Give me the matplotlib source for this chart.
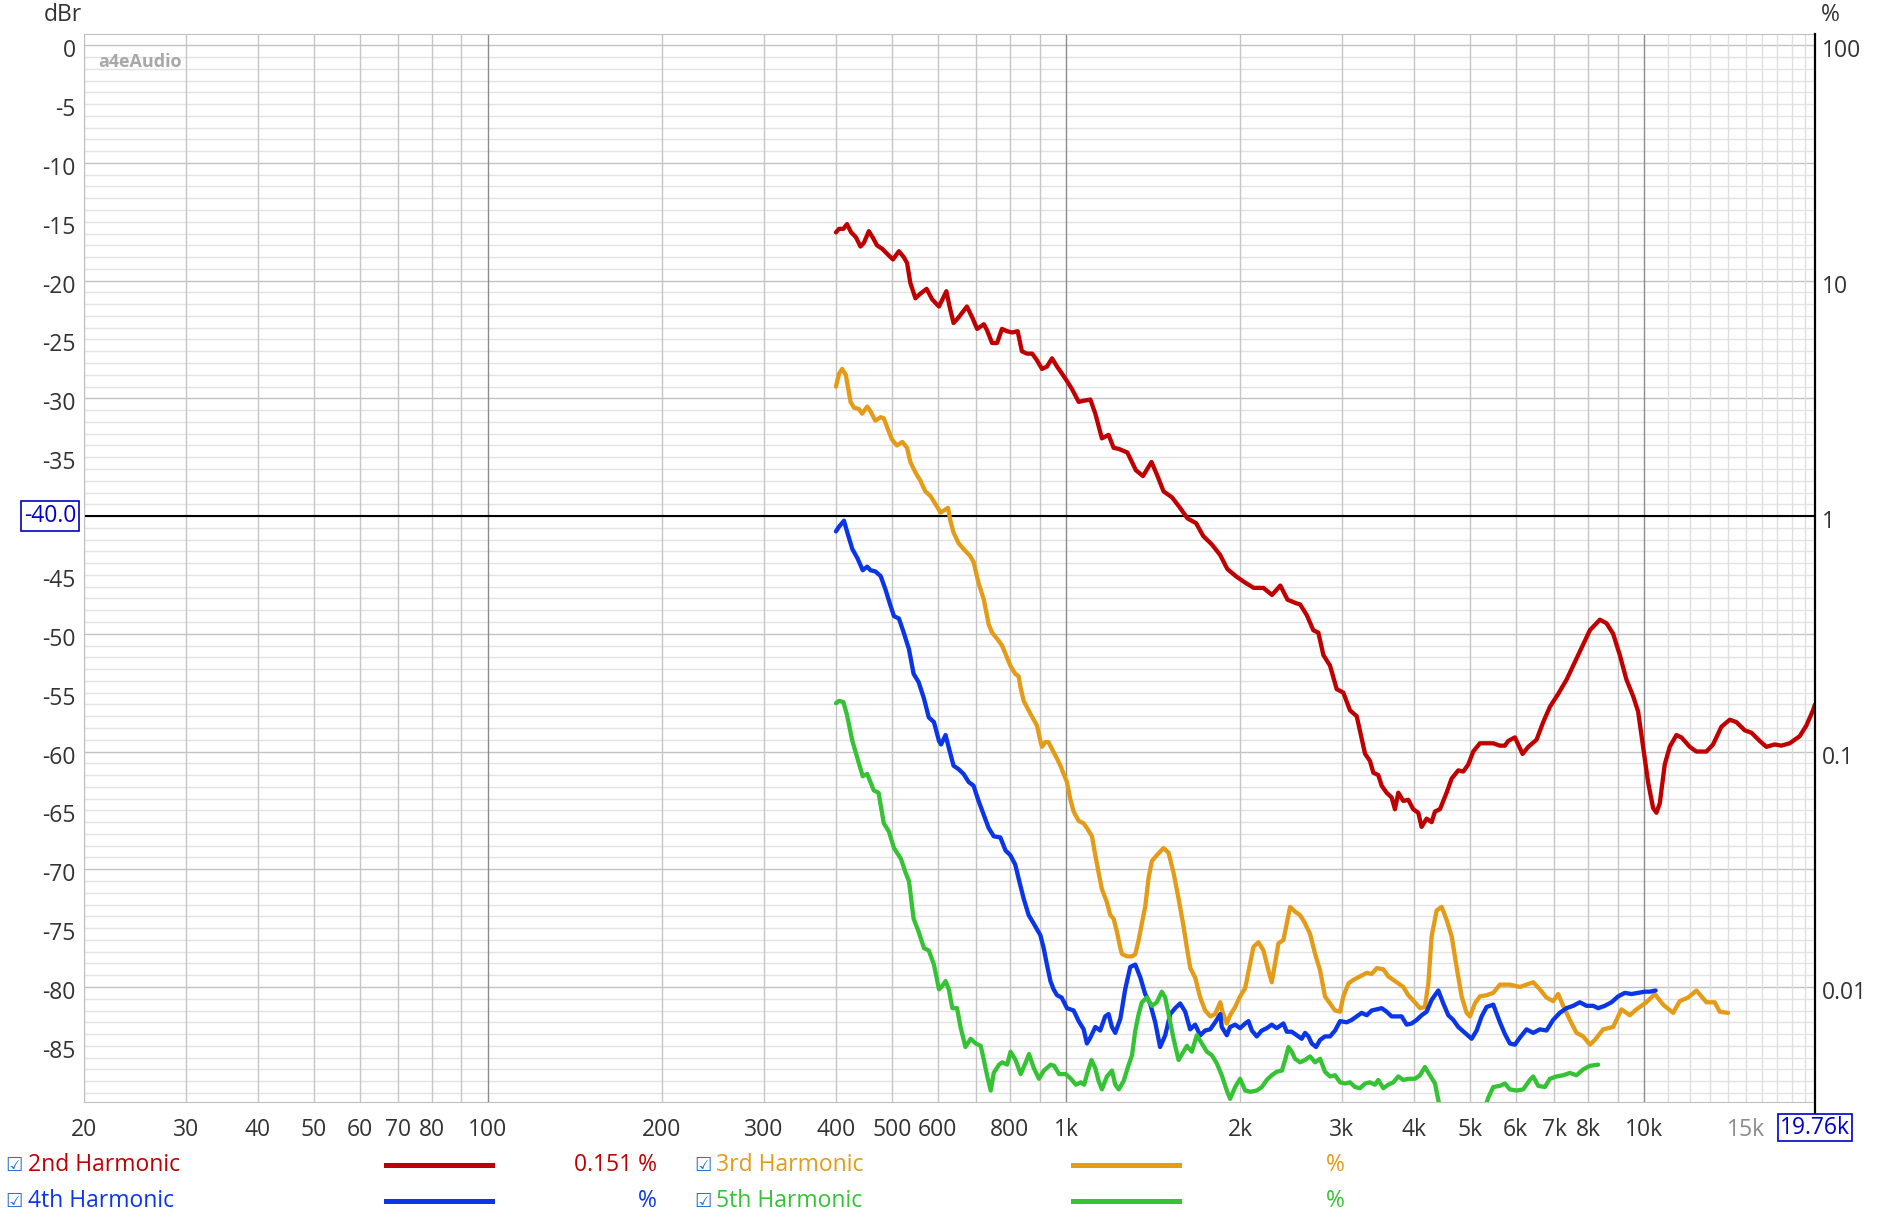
import numpy as np
import matplotlib
matplotlib.use("Agg")
import matplotlib.pyplot as plt
from matplotlib.lines import Line2D
from matplotlib.transforms import blended_transform_factory, ScaledTranslation

plt.rcParams['font.family'] = ['Open Sans', 'DejaVu Sans']

# 2nd harmonic (Hz, dBr)
f2 = [400, 405, 412, 418, 425, 433, 441, 447, 456, 464, 471, 481, 490, 502, 514, 524, 531, 538, 549, 560,
      574, 587, 603, 621, 629, 639, 650, 674, 688, 702, 721, 730, 745, 760, 775, 791, 807, 825, 839, 856,
      874, 889, 909, 927, 946, 965, 978, 1000, 1024, 1052, 1073, 1102, 1124, 1154, 1185, 1209,
      1235, 1277, 1321, 1359, 1406, 1440, 1475, 1525, 1570, 1623, 1679, 1728, 1787, 1848, 1902, 1967,
      2034, 2113, 2196, 2272, 2349, 2417, 2500,
      2541, 2609, 2679, 2733, 2788, 2863, 2940, 3019, 3100, 3184, 3292, 3357, 3402, 3470, 3517, 3587,
      3659, 3708, 3758, 3833, 3910, 3988, 4069, 4123, 4207, 4291, 4349, 4436, 4555, 4647, 4772, 4868,
      4966, 5065, 5201, 5341, 5485, 5632, 5746, 5823, 5980, 6059, 6165, 6306, 6518, 6693, 6874, 7106,
      7345, 7543, 7797, 8060, 8387, 8611, 8843, 9081, 9326, 9577, 9768, 9965, 10165, 10370, 10508,
      10649, 10862, 11080, 11378, 11608, 12000, 12322, 12823, 13167, 13610, 14070, 14448, 14935,
      15339, 15856, 16282, 16831, 17283, 17865, 18592, 19091, 19604, 19760]
db2 = [-15.9, -15.6, -15.6, -15.2, -15.9, -16.3, -17.1, -16.8, -15.8, -16.4, -17.0, -17.3, -17.7, -18.2,
       -17.5, -18.0, -18.5, -20.2, -21.5, -21.1, -20.7, -21.6, -22.2, -20.9, -22.2, -23.6, -23.2, -22.2,
       -23.1, -24.1, -23.7, -24.2, -25.3, -25.3, -24.1, -24.3, -24.4, -24.3, -26.0, -26.2, -26.2, -26.7,
       -27.5, -27.3, -26.6, -27.3, -27.7, -28.4, -29.2, -30.3, -30.2, -30.1, -31.3, -33.4, -33.1, -34.2,
       -34.3, -34.6, -36.1, -36.6, -35.4, -36.6, -37.9, -38.4, -39.2, -40.2, -40.6, -41.7, -42.4, -43.3,
       -44.5, -45.1, -45.6, -46.1, -46.1, -46.7, -45.9, -47.1, -47.4,
       -47.5, -48.4, -49.7, -49.9, -51.8, -52.7, -54.7, -55.0, -56.5, -57.0, -60.2, -60.8, -61.8, -62.0,
       -62.9, -63.5, -63.9, -64.9, -63.5, -64.2, -64.1, -64.9, -65.2, -66.4, -65.7, -66.0, -65.1, -64.9,
       -63.5, -62.3, -61.6, -61.7, -61.1, -60.0, -59.3, -59.3, -59.3, -59.5, -59.5, -59.1, -58.8, -59.4,
       -60.2, -59.6, -59.0, -57.5, -56.2, -55.1, -53.9, -52.7, -51.2, -49.7, -48.8, -49.1, -50.0, -51.8,
       -53.9, -55.3, -56.6, -59.6, -62.6, -64.8, -65.2, -64.4, -61.1, -59.6, -58.6, -58.8, -59.6, -60.0,
       -60.0, -59.4, -57.9, -57.3, -57.5, -58.2, -58.4, -59.1, -59.6, -59.4, -59.5, -59.3, -58.7, -57.8,
       -56.5, -56.0]

# 3rd harmonic
f3 = [400, 405, 410, 416, 424, 430, 438, 444, 453, 459, 468, 478, 484, 490, 500, 510, 521, 531,
      538, 549, 560, 571, 583, 595, 607, 616, 625, 631, 639, 652, 665, 683, 692, 706, 721, 735, 745,
      765, 775, 786, 801, 817, 828, 834, 845, 868, 891, 903, 909, 921, 933, 946, 965, 978, 991, 1004,
      1017, 1031, 1052, 1073, 1087, 1109, 1124, 1139, 1154, 1177, 1193, 1209, 1225, 1242, 1250, 1275,
      1301, 1318, 1336, 1353, 1371, 1390, 1408, 1437, 1475, 1505, 1535, 1566, 1598, 1619, 1641, 1673,
      1707, 1741, 1777, 1812, 1849,
      1868, 1898, 1923, 1962, 2001, 2042, 2083, 2110, 2153, 2196, 2240, 2270, 2300, 2331, 2378, 2410,
      2442, 2491, 2541, 2592, 2644, 2698, 2752, 2806, 2863, 2921, 2980, 3019, 3081, 3142, 3226, 3314,
      3380, 3448, 3540, 3611, 3684, 3758, 3834, 3910, 4015, 4096, 4178, 4236, 4291, 4378, 4466, 4556,
      4648, 4740, 4836, 4933, 4999, 5099, 5201, 5341, 5485, 5633,
      5861, 6100, 6263, 6431, 6604, 6781, 6963, 7104, 7247, 7442, 7643, 7849, 8060, 8222, 8499, 8843,
      9141, 9450, 9705, 10099, 10440, 10791, 11230, 11532, 11921, 12322, 12570, 12823, 13255, 13521,
      13976]
db3 = [-29.0, -27.9, -27.5, -28.0, -30.3, -30.8, -30.9, -31.3, -30.7, -31.1, -31.9, -31.6, -31.7, -32.4,
       -33.5, -34.0, -33.7, -34.2,
       -35.4, -36.3, -37.0, -37.9, -38.3, -39.0, -39.7, -39.5, -39.3, -40.4, -41.4, -42.3, -42.8, -43.4,
       -43.9, -45.7, -47.1, -49.2, -49.9, -50.6, -51.0, -51.7, -52.7, -53.4, -53.6, -54.5, -55.7, -56.8,
       -57.8, -59.1, -59.6, -59.2, -59.2, -59.8, -60.6, -61.2, -61.9, -62.6, -64.0, -65.1, -65.9, -66.1,
       -66.5, -67.2, -68.8, -70.3, -71.7, -72.8, -73.9, -74.2, -75.3, -76.7, -77.2, -77.4, -77.4, -77.2,
       -76.0, -74.6, -73.2, -70.7, -69.3, -68.8, -68.2, -68.6, -70.3, -72.5, -74.9, -76.7, -78.4, -79.2,
       -80.9, -82.0, -82.5, -82.3, -81.3,
       -82.2, -83.1, -82.4, -81.7, -80.8, -80.1, -78.0, -76.6, -76.2, -76.9, -78.6, -79.6, -78.0, -76.3,
       -76.0, -74.6, -73.2, -73.6, -73.9, -74.6, -75.5, -77.2, -78.6, -80.8, -81.4, -82.0, -82.1, -80.8,
       -79.7, -79.4, -79.1, -78.8, -78.9, -78.4, -78.5, -79.1, -79.4, -79.7, -80.0, -80.7, -81.3, -81.8,
       -81.7, -79.7, -75.7, -73.5, -73.2, -74.3, -75.7, -78.3, -80.8, -82.2, -82.5, -81.4, -80.8, -80.7,
       -80.5, -79.8,
       -79.8, -80.0, -79.8, -79.6, -80.2, -80.9, -81.2, -80.6, -81.6, -82.8, -83.9, -84.2, -84.9, -84.5,
       -83.6, -83.4, -81.9, -82.4, -81.9, -81.3, -80.6, -81.5, -82.2, -81.2, -80.9, -80.3, -80.8, -81.3,
       -81.3, -82.1, -82.2]

# 4th harmonic
f4 = [400, 405, 413, 418, 427, 436, 445, 453, 459, 468, 478, 487, 497, 504, 514, 524, 535, 545, 556,
      568, 579, 591, 603, 608, 619, 628, 639, 652, 665, 679, 692, 706, 721, 735, 750, 770, 786, 801, 817,
      834, 845, 862, 879, 903, 915, 927, 940, 952, 965, 983, 1004, 1031, 1052, 1073, 1087, 1102, 1124,
      1146, 1169, 1185, 1201, 1217, 1242, 1266, 1292, 1318, 1345, 1371, 1398, 1427, 1455, 1485, 1515,
      1545, 1576, 1608, 1640, 1673, 1707, 1741, 1776, 1812, 1849,
      1860, 1898, 1923, 1962, 2001, 2042, 2069, 2097, 2138, 2182, 2225, 2270, 2315, 2378, 2410, 2458,
      2507, 2558, 2592, 2627, 2662, 2708, 2752, 2806, 2863, 2921, 2980, 3060, 3121, 3184, 3248, 3314,
      3380, 3448, 3517, 3587, 3659, 3733, 3808, 3885, 3963, 4043, 4124, 4207, 4291, 4407, 4496, 4586,
      4678, 4772, 4900, 5033, 5134, 5237, 5342, 5486, 5633,
      5746, 5861, 5980, 6100, 6263, 6431, 6604, 6781, 6963, 7151, 7345, 7543, 7745, 7953, 8168, 8331,
      8555, 8786, 9022, 9265, 9513, 9768, 10032, 10233, 10475]
db4 = [-41.3, -40.9, -40.4, -41.3, -42.8, -43.6, -44.6, -44.3, -44.6, -44.7, -45.1, -46.2, -47.6, -48.5,
       -48.7, -49.9, -51.3, -53.4, -54.1, -55.5, -57.1, -57.5, -59.1, -59.4, -58.6, -59.8, -61.2, -61.5,
       -61.9, -62.6, -62.9, -64.2, -65.4, -66.5, -67.2, -67.3, -68.4, -68.8, -69.6, -71.4, -72.5, -73.9,
       -74.6, -75.6, -76.7, -78.1, -79.5, -80.2, -80.7, -80.9, -81.8, -82.0, -82.9, -83.6, -84.8, -84.3,
       -83.4, -83.7, -82.5, -82.3, -83.4, -83.9, -82.7, -80.2, -78.3, -78.1, -79.2, -80.6, -81.4, -83.0,
       -85.1, -84.1, -82.3, -81.8, -81.4, -82.1, -83.6, -83.2, -84.1, -83.7, -83.6, -83.0, -82.3,
       -83.4, -84.1, -83.4, -83.2, -83.5, -83.1, -82.9, -83.7, -84.2, -83.7, -83.5, -83.2, -83.5, -83.1,
       -83.8, -83.8, -84.1, -84.4, -83.9, -84.2, -84.8, -85.1, -84.5, -84.2, -84.2, -83.7, -82.9, -83.0,
       -82.8, -82.5, -82.2, -82.4, -82.0, -81.9, -81.8, -82.1, -82.5, -82.5, -82.5, -83.2, -83.1, -82.8,
       -82.4, -82.1, -81.1, -80.3, -81.4, -82.4, -82.8, -83.4, -83.9, -84.4, -83.7, -82.5, -81.7, -81.5,
       -83.0,
       -84.0, -84.8, -84.9, -84.3, -83.6, -83.9, -83.6, -83.7, -82.8, -82.2, -81.8, -81.6, -81.3, -81.6,
       -81.6, -81.8, -81.6, -81.3, -80.8, -80.5, -80.6, -80.5, -80.4, -80.4, -80.3]

# 5th harmonic (runs below the chart floor between ~4.4k and ~5.3k)
f5 = [400, 405, 412, 418, 427, 436, 445, 453, 459, 465, 474, 484, 494, 504, 518, 528, 535, 545, 556,
      568, 579, 591, 603, 611, 619, 627, 636, 648, 657, 670, 684, 698, 712, 721, 731, 741, 750, 766,
      776, 791, 802, 818, 835, 852, 863, 880, 898, 916, 941, 954, 973, 999, 1020, 1040, 1061, 1075,
      1089, 1107, 1124, 1139, 1154, 1177, 1201, 1217, 1234, 1258, 1284, 1301, 1318, 1336, 1353, 1380,
      1408, 1436, 1465, 1485, 1505, 1535, 1566, 1597, 1619, 1651, 1684, 1718, 1753, 1788, 1824,
      1860, 1898, 1923, 1962, 2001, 2042, 2083, 2138, 2182, 2225, 2270, 2315, 2363, 2394, 2426, 2458,
      2491, 2541, 2592, 2644, 2698, 2752, 2806, 2863, 2921, 2980, 3040, 3100, 3163, 3226, 3292, 3357,
      3424, 3470, 3540, 3611, 3684, 3758, 3834, 3910, 4015, 4096, 4178, 4263, 4349, 4407, 4448,
      4600, 5000, 5250,
      5378, 5486, 5632, 5746, 5861, 6019, 6181, 6346, 6431, 6561, 6738, 6874, 7058, 7247, 7442, 7643,
      7849, 8060, 8331]
db5 = [-55.9, -55.7, -55.8, -56.9, -59.1, -60.6, -62.1, -61.9, -62.6, -63.3, -63.5, -66.1, -66.8, -68.2,
       -69.1, -70.3, -71.0, -74.2, -75.3, -76.7, -76.9, -78.1, -80.2, -79.9, -79.5, -80.2, -81.8, -81.8,
       -83.4, -85.1, -84.4, -84.8, -85.0, -86.2, -87.6, -88.8, -87.3, -86.6, -86.4, -86.6, -85.5, -86.2,
       -87.4, -86.4, -85.7, -86.9, -87.8, -87.1, -86.6, -86.7, -87.4, -87.4, -87.8, -88.3, -88.1, -88.3,
       -87.3, -86.2, -86.9, -88.0, -88.7, -87.6, -87.1, -88.3, -88.7, -88.0, -86.6, -85.8, -83.7, -82.3,
       -81.3, -80.9, -81.6, -81.3, -80.4, -80.9, -82.3, -84.4, -86.2, -85.5, -85.0, -85.5, -84.1, -84.8,
       -85.5, -85.8, -86.5,
       -87.5, -88.8, -89.5, -88.5, -87.8, -88.8, -88.9, -88.8, -88.5, -87.9, -87.5, -87.2, -87.1, -86.2,
       -85.1, -85.5, -86.1, -86.4, -86.2, -85.9, -86.4, -86.1, -87.2, -87.6, -87.5, -88.1, -88.2, -88.1,
       -88.5, -88.6, -88.2, -88.1, -88.3, -87.9, -88.6, -88.3, -88.1, -87.6, -87.9, -87.8, -87.8, -87.5,
       -86.8, -87.5, -88.2, -89.6, -90.5,
       -94.0, -95.0, -91.0,
       -89.4, -88.5, -88.4, -88.2, -88.7, -88.8, -88.7, -87.9, -87.6, -88.4, -88.5, -87.8, -87.6, -87.5,
       -87.3, -87.5, -87.0, -86.7, -86.6]

xticks = [20, 30, 40, 50, 60, 70, 80, 100, 200, 300, 400, 500, 600, 800, 1000, 2000, 3000, 4000,
          5000, 6000, 7000, 8000, 10000, 15000]
xlabels = ['20', '30', '40', '50', '60', '70', '80', '100', '200', '300', '400', '500', '600', '800',
           '1k', '2k', '3k', '4k', '5k', '6k', '7k', '8k', '10k', '15k']
yticks = list(range(0, -90, -5))
pct_ticks = [0, -20, -40, -60, -80]
pct_labels = ['100', '10', '1', '0.1', '0.01']

names = ['2nd Harmonic', '3rd Harmonic', '4th Harmonic', '5th Harmonic']
colors = ['#c00000', '#e49b17', '#0a36e8', '#35c335']
readouts = ['0.151 %', '%', '%', '%']

cursor_f = 19760
cursor_db = -40.0

FS = 16.5

fig = plt.figure(figsize=(18.9, 12.19), dpi=100)
ax = fig.add_axes([0.0444, 0.0957, 0.9159, 0.8764])
ax.set_xscale('log')

# grid
for d in range(0, -90, -1):
    ax.axhline(d, color='#c2c2c2' if d % 10 == 0 else '#e3e3e3', lw=1, zorder=0)
for dec in [10, 100, 1000]:
    for m in range(2, 10):
        ax.axvline(dec * m, color='#c6c6c6', lw=1, zorder=0)
for v in [100, 1000, 10000]:
    ax.axvline(v, color='#8c8c8c', lw=1, zorder=0.5)
for m in range(11, 20):
    ax.axvline(m * 1000, color='#dedede', lw=1, zorder=0)

for f, d, c in zip([f2, f3, f4, f5], [db2, db3, db4, db5], colors):
    ax.plot(f, d, color=c, lw=3.1, solid_joinstyle='round', solid_capstyle='round', zorder=3)

ax.axhline(cursor_db, color='black', lw=1.5, zorder=2)
ax.axvline(cursor_f, color='black', lw=1.6, ymin=-0.012, ymax=1, clip_on=False, zorder=4)

ax.set_xlim(20, cursor_f)
ax.set_ylim(-89.8, 0.95)

ax.xaxis.set_minor_locator(matplotlib.ticker.NullLocator())
ax.set_xticks(xticks)
ax.set_xticklabels(xlabels)
ax.set_yticks(yticks)
ax.set_yticklabels(['' if v == -40 else str(v) for v in yticks])
ax.tick_params(axis='both', length=0, labelsize=FS, labelcolor='#333333')
ax.tick_params(axis='x', pad=11)
ax.tick_params(axis='y', pad=6)
for lab in ax.get_xticklabels():
    lab.set_color('#8a8a8a' if lab.get_text() == '15k' else '#333333')
shift = ScaledTranslation(0, -3 / 100, fig.dpi_scale_trans)
for lab in ax.get_yticklabels():
    lab.set_transform(lab.get_transform() + shift)

for s in ['left', 'bottom', 'top']:
    ax.spines[s].set_color('#c0c0c0')
ax.spines['right'].set_visible(False)

ax2 = ax.twinx()
ax2.set_ylim(ax.get_ylim())
ax2.set_yticks(pct_ticks)
ax2.set_yticklabels(pct_labels)
ax2.tick_params(axis='y', length=0, labelsize=FS, labelcolor='#333333', pad=5)
for lab in ax2.get_yticklabels():
    lab.set_transform(lab.get_transform() + shift)
for s in ax2.spines.values():
    s.set_visible(False)

# cursor readouts
tr_y = blended_transform_factory(ax.transAxes, ax.transData)
ax.text(-0.0045, cursor_db, '-40.0', transform=tr_y, ha='right', va='center', fontsize=FS,
        color='#0000c8', bbox=dict(boxstyle='square,pad=0.12', fc='white', ec='#0000c8', lw=1.2), zorder=5)
tr_x = blended_transform_factory(ax.transData, ax.transAxes)
ax.text(cursor_f, -0.0236, '19.76k', transform=tr_x, ha='center', va='center', fontsize=FS,
        color='#0000c8', bbox=dict(boxstyle='square,pad=0.08', fc='white', ec='#0000c8', lw=1.2), zorder=5)

# watermark
ax.text(0.008, 0.982, 'a4eAudio', transform=ax.transAxes, ha='left', va='top', fontsize=13,
        fontweight='bold', color='#a8a8a8', zorder=1)

fig.text(63 / 1890, 1 - 15 / 1219, 'dBr', ha='center', va='center', fontsize=FS, color='#333333')
fig.text(1830 / 1890, 1 - 15 / 1219, '%', ha='center', va='center', fontsize=FS, color='#333333')

# legend
rows = [1 - 1165 / 1219, 1 - 1201 / 1219, 1 - 1165 / 1219, 1 - 1201 / 1219]
cols = [(14, 28, 386, 492, 657), (14, 28, 386, 492, 657), (703, 716, 1073, 1179, 1345), (703, 716, 1073, 1179, 1345)]
order = [0, 2, 1, 3]
for i, (name, c, r) in enumerate(zip(names, colors, readouts)):
    y = rows[order[i]]
    cb, tx, l0, l1, rx = cols[order[i]]
    fig.text(cb / 1890, y, '\u2611', ha='center', va='center', fontsize=14, color='#2a6fd6',
             family=['DejaVu Sans'])
    fig.text(tx / 1890, y, name, ha='left', va='center', fontsize=FS, color=c)
    fig.add_artist(Line2D([l0 / 1890, l1 / 1890], [y, y], color=c, lw=3.6, transform=fig.transFigure))
    fig.text(rx / 1890, y, r, ha='right', va='center', fontsize=FS, color=c)

fig.savefig('out.png', dpi=100)
